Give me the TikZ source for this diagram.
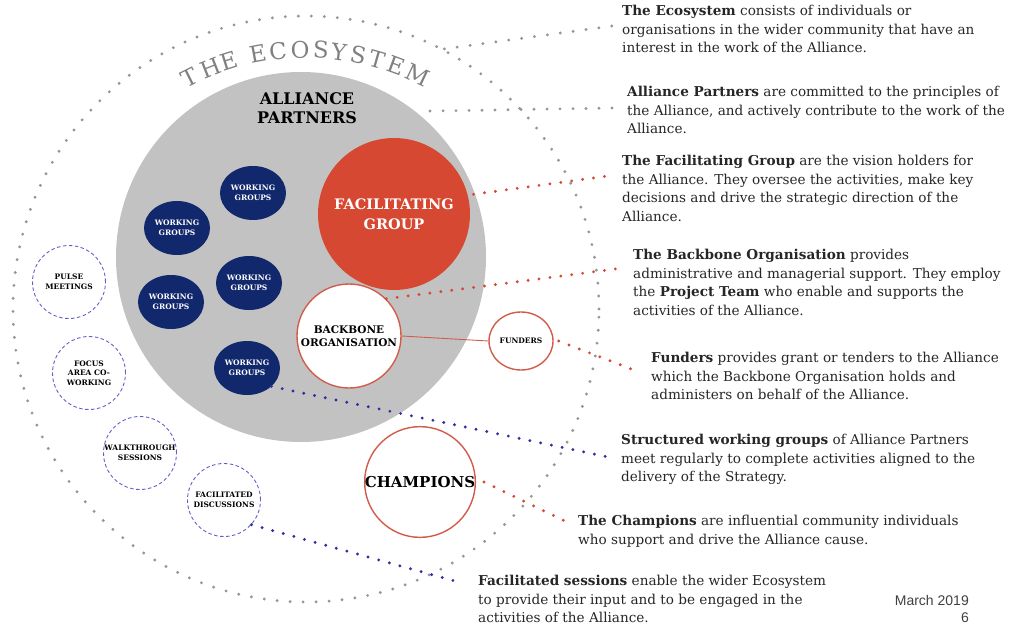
\documentclass[tikz,border=0pt]{standalone}
\usepackage{fontspec}
\setmainfont{DejaVu Serif}
\newfontfamily\datefont{Liberation Sans}
\usetikzlibrary{math}
\usetikzlibrary{shapes.geometric}

\definecolor{facred}{RGB}{214,72,50}
\definecolor{ringred}{RGB}{210,92,74}
\definecolor{wgnavy}{RGB}{18,40,108}
\definecolor{apgrey}{RGB}{194,194,194}
\definecolor{dotgrey}{RGB}{150,150,150}
\definecolor{dotblue}{RGB}{46,46,160}
\definecolor{dashblue}{RGB}{96,96,200}

\tikzset{
	wg/.style={ellipse, fill=wgnavy, text=white, inner sep=0pt, align=center,
		minimum width=66pt, minimum height=54pt,
		font=\bfseries\fontsize{7.5}{9.5}\selectfont},
	forum/.style={circle, draw=dashblue, line width=0.9pt, dash pattern=on 3.5pt off 2.5pt,
		minimum size=73pt, inner sep=0pt, align=center,
		font=\bfseries\fontsize{7.5}{9.5}\selectfont},
	redring/.style={circle, draw=ringred, line width=1.4pt, fill=white, inner sep=0pt, align=center},
	desc/.style={anchor=north west, inner sep=0pt, align=left, text=black!85,
		font=\fontsize{13.6}{18.7}\selectfont},
	dotline/.style={line width=3.2pt, line cap=round, dash pattern=on 0pt off 11pt},
}

\begin{document}
\begin{tikzpicture}[x=1pt,y=1pt]
	\tikzmath{\ecx=306; \ecy=321; \ecr=293; \apx=301; \apy=373; \apr=185;}
	\useasboundingbox (0,0) rectangle (1019,630);

	% rings
	\node[circle, draw=dotgrey, line width=3.2pt, line cap=round, dash pattern=on 0pt off 13pt,
		minimum size=2*\ecr, inner sep=0pt] (eco) at (\ecx,\ecy) {};
	\node[circle, fill=apgrey, minimum size=2*\apr, inner sep=0pt] (allp) at (\apx,\apy) {};

	% curved title
	\foreach \ang/\ch [count=\k] in {116.6/T,111.5/H,107.3/E,100.7/E,96.2/C,91.3/O,86.7/S,
			82.7/Y,78.4/S,74.1/T,69.7/E,64.6/M}
		\node[anchor=base, rotate=\ang-90, text=black!50, inner sep=0pt,
			font=\fontsize{23}{23}\selectfont] (ttl\k) at ([shift={(\ang:251)}]\ecx,\ecy) {\ch};

	\node[font=\bfseries\fontsize{16}{19}\selectfont, align=center] (aptitle) at (307,522) {ALLIANCE\\PARTNERS};

	\node[circle, fill=facred, text=white, minimum size=152pt, inner sep=0pt, align=center,
		font=\bfseries\fontsize{14.5}{20}\selectfont] (fac) at (394,416) {FACILITATING\\GROUP};
	\node[redring, minimum size=104pt, font=\bfseries\fontsize{10.5}{13}\selectfont] (bb) at (349,294) {BACKBONE\\ORGANISATION};
	\node[ellipse, draw=ringred, line width=1.4pt, fill=white, inner sep=0pt, minimum width=64pt,
		minimum height=58pt, font=\bfseries\fontsize{7.5}{9}\selectfont] (fund) at (521,289) {FUNDERS};
	\node[redring, minimum size=110pt, font=\bfseries\fontsize{15}{18}\selectfont] (champ) at (420,148) {CHAMPIONS};
	\draw[ringred, line width=0.9pt] (bb.east) -- (fund.west);

	% working groups
	\node[wg] (wg1) at (253,437) {WORKING\\GROUPS};
	\node[wg] (wg2) at (177,402) {WORKING\\GROUPS};
	\node[wg] (wg3) at (249,347) {WORKING\\GROUPS};
	\node[wg] (wg4) at (171,328) {WORKING\\GROUPS};
	\node[wg] (wg5) at (247,262) {WORKING\\GROUPS};

	% ecosystem forums
	\node[forum] (pulse) at (69,348) {PULSE\\MEETINGS};
	\node[forum] (focus) at (89,257) {FOCUS\\AREA CO-\\WORKING};
	\node[forum] (walk) at (140,177) {WALKTHROUGH\\SESSIONS};
	\node[forum] (facd) at (224,130) {FACILITATED\\DISCUSSIONS};

	% descriptions
	\node[desc] (ecotxt) at (622,625) {\textbf{The Ecosystem} consists of individuals or\\
		organisations in the wider community that have an\\interest in the work of the Alliance.};
	\node[desc] (aptxt) at (627,544) {\textbf{Alliance Partners} are committed to the principles of\\
		the Alliance, and actively contribute to the work of the\\Alliance.};
	\node[desc] (factxt) at (622,475) {\textbf{The Facilitating Group} are the vision holders for\\
		the Alliance. They oversee the activities, make key\\
		decisions and drive the strategic direction of the\\Alliance.};
	\node[desc] (bbtxt) at (633,381) {\textbf{The Backbone Organisation} provides\\
		administrative and managerial support. They employ\\
		the \textbf{Project Team} who enable and supports the\\activities of the Alliance.};
	\node[desc] (fundtxt) at (651,278) {\textbf{Funders} provides grant or tenders to the Alliance\\
		which the Backbone Organisation holds and\\administers on behalf of the Alliance.};
	\node[desc] (wgtxt) at (621,196) {\textbf{Structured working groups} of Alliance Partners\\
		meet regularly to complete activities aligned to the\\delivery of the Strategy.};
	\node[desc] (champtxt) at (578,115) {\textbf{The Champions} are influential community individuals\\
		who support and drive the Alliance cause.};
	\node[desc] (facstxt) at (478,55) {\textbf{Facilitated sessions} enable the wider Ecosystem\\
		to provide their input and to be engaged in the\\activities of the Alliance.};
	\node[anchor=north east, inner sep=0pt, align=right, text=black!75,
		font=\datefont\fontsize{14}{17}\selectfont] (date) at (969,35) {March 2019\\6};

	% pointers
	\draw[dotline, dotgrey, dash pattern=on 0pt off 13pt] (eco.62) -- ([xshift=-10pt,yshift=-21pt]ecotxt.north west);
	\draw[dotline, dotgrey, dash pattern=on 0pt off 13pt] ([xshift=15pt]allp.52) -- ([xshift=-15pt,yshift=-22pt]aptxt.north west);
	\draw[dotline, facred] ([xshift=6pt]fac.15) -- ([xshift=-14pt,yshift=-21pt]factxt.north west);
	\draw[dotline, facred] (bb.45) -- ([xshift=-10pt,yshift=-19pt]bbtxt.north west);
	\draw[dotline, facred] ([xshift=5pt]fund.east) -- ([xshift=-12pt,yshift=-20pt]fundtxt.north west);
	\draw[dotline, dotblue] (wg5.-37) -- ([xshift=-13pt,yshift=-23pt]wgtxt.north west);
	\draw[dotline, facred] ([xshift=8pt]champ.east) -- ([xshift=-11pt,yshift=-7pt]champtxt.north west);
	\draw[dotline, dotblue] (facd.-42) -- ([xshift=-16pt,yshift=-8pt]facstxt.north west);
\end{tikzpicture}
\end{document}
